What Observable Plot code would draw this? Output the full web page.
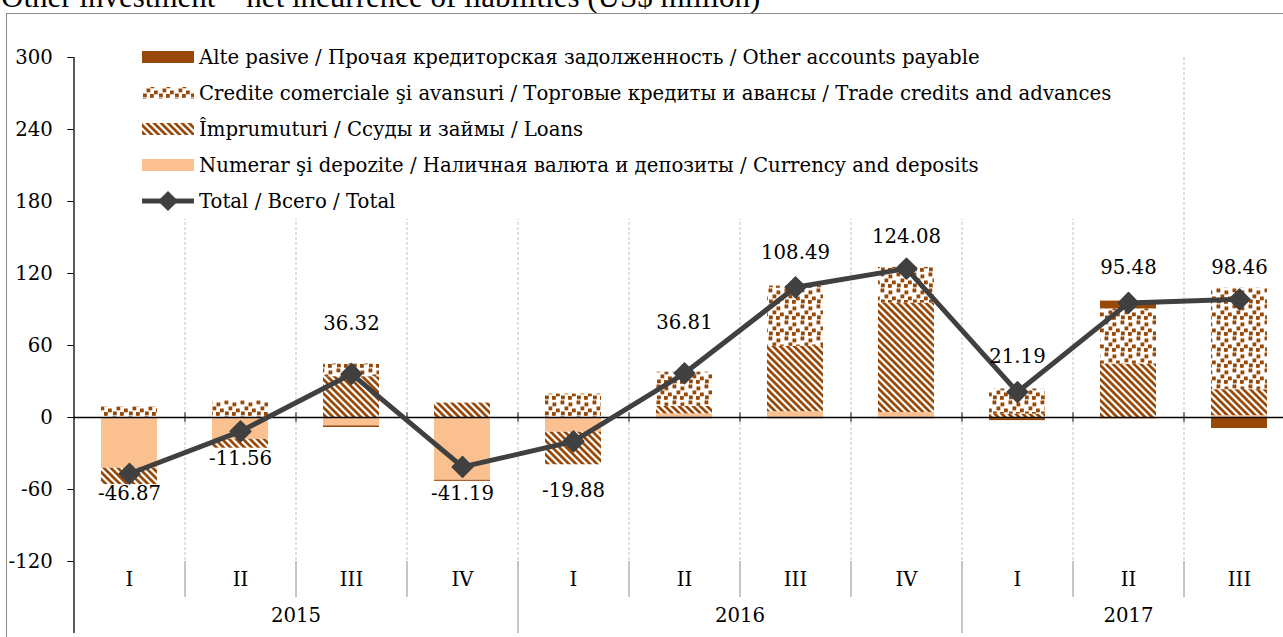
<!DOCTYPE html>
<html><head><meta charset="utf-8">
<script src="https://cdn.jsdelivr.net/npm/d3@7"></script>
<script src="https://cdn.jsdelivr.net/npm/@observablehq/plot@0.6"></script>
<style>
html,body{margin:0;padding:0;background:#fff;overflow:hidden;}
#wrap{position:relative;width:1283px;height:637px;overflow:hidden;font-family:"DejaVu Serif",serif;}
#title{position:absolute;left:1px;top:-19px;font-family:"Liberation Serif",serif;font-size:31px;line-height:31px;white-space:nowrap;color:#000;}
#frame{position:absolute;left:6px;top:13px;width:1400px;height:700px;border-left:1.3px solid #8a8a8a;border-top:1.3px solid #8a8a8a;pointer-events:none;}
#chart{position:absolute;left:0;top:0;}
#legend{position:absolute;left:136px;top:39px;width:982px;background:#fff;}
.row{height:36px;display:flex;align-items:center;}
.row svg{margin-left:6px;margin-right:5px;flex:none;}
.row span{font-size:19.7px;white-space:nowrap;color:#000;}
</style></head>
<body>
<svg width="0" height="0" style="position:absolute">
  <defs>
    <pattern id="loansPat" patternUnits="userSpaceOnUse" width="7" height="7">
      <rect width="7" height="7" fill="#fff"/>
      <path d="M-1,-1 L8,8 M-1,6 L1,8 M6,-1 L8,1" stroke="#984807" stroke-width="2.7"/>
    </pattern>
    <pattern id="tradePat" patternUnits="userSpaceOnUse" width="16" height="16">
      <rect width="16" height="16" fill="#fff"/>
      <g fill="#984807">
        <rect x="0.5" y="0.5" width="3.8" height="3.8"/>
        <rect x="8.5" y="2.5" width="3.8" height="3.8"/>
        <rect x="4.5" y="6.5" width="3.8" height="3.8"/>
        <rect x="12" y="8.5" width="3.8" height="3.8"/>
        <rect x="1" y="11.5" width="3.8" height="3.8"/>
        <rect x="8" y="12" width="3.8" height="3.8"/>
      </g>
    </pattern>
  </defs>
</svg>
<div id="wrap">
  <div id="title">Other investment – net incurrence of liabilities (US$ million)</div>
  <div id="chart"></div>
  <div id="frame"></div>
  <div id="legend"></div>
</div>
<script>
// ---- data ----
const quarters = ["I","II","III","IV","I","II","III","IV","I","II","III"];
const years = ["2015","2015","2015","2015","2016","2016","2016","2016","2017","2017","2017"];
const yearNames = ["2015","2016","2017"];
const currency = [-42.3, -18.2, -7.0, -52.3, -12.3, 3.0, 4.8, 4.2, -1.0, -1.5, 1.5];
const loans    = [-13.6, -7.4, 34.0, 12.0, -27.1, 6.3, 54.5, 91.2, 2.8, 44.5, 21.7];
const trade    = [9.0, 14.0, 10.6, 0, 19.5, 28.5, 50.2, 29.7, 21.0, 46.0, 84.5];
const other    = [0, 0, -1.3, -0.9, 0, -1.0, -1.0, -1.0, -1.6, 6.5, -9.2];
const total    = [-46.87, -11.56, 36.32, -41.19, -19.88, 36.81, 108.49, 124.08, 21.19, 95.48, 98.46];
const yTicks = [-120, -60, 0, 60, 120, 180, 240, 300];
const seriesKeys = ["currency", "loans", "trade", "other"];
const seriesLabels = [
  "Alte pasive / Прочая кредиторская задолженность / Other accounts payable",
  "Credite comerciale şi avansuri / Торговые кредиты и авансы / Trade credits and advances",
  "Împrumuturi / Ссуды и займы / Loans",
  "Numerar şi depozite / Наличная валюта и депозиты / Currency and deposits",
  "Total / Всего / Total"
];
// label offsets (px) for total annotations
const labelDy = [20, 27, -50, 27, 49, -51, -35, -32, -35, -35, -32];

// ---- styles ----
const fills = {currency: "#FAC090", loans: "url(#loansPat)", trade: "url(#tradePat)", other: "#984807"};
const lineColor = "#404040";
const FS = 19.7;

// ---- layout ----
const W = 1283, H = 637;
const X0 = 73.3, X1 = 1294.3;
const cats = quarters.map((q, i) => years[i] + " " + q);
const step = (X1 - X0) / cats.length;

const seriesValues = {currency, loans, trade, other};
const data = [];
for (const k of seriesKeys) seriesValues[k].forEach((v, i) => data.push({id: cats[i], series: k, value: v}));
const totals = total.map((v, i) => ({id: cats[i], value: v, dy: labelDy[i]}));

// year label positions: centre of each year's visible quarters
const yearLabels = yearNames.map(y => {
  const idx = years.map((yy, i) => yy === y ? i : -1).filter(i => i >= 0);
  const mid = (idx[0] + idx[idx.length - 1]) / 2;
  const base = Math.floor(mid);
  return {id: cats[base], text: y, dx: (mid - base) * step};
});
const yearStarts = cats.filter((c, i) => i > 0 && years[i] !== years[i - 1]);
const quarterBounds = cats.filter((c, i) => i > 0 && years[i] === years[i - 1]);

const uniqueDy = [...new Set(totals.map(d => d.dy))];
const uniqueDx = [...new Set(yearLabels.map(d => d.dx))];

const chart = Plot.plot({
  width: W, height: H,
  marginLeft: X0, marginRight: 0, marginTop: 57, marginBottom: 76,
  style: {fontFamily: "'DejaVu Serif', serif", fontSize: FS + "px", color: "#000", background: "transparent"},
  x: {type: "band", domain: cats, range: [X0, X1], paddingInner: 0.5, paddingOuter: 0.25, axis: null},
  y: {domain: [-120, 300], range: [561, 57], axis: null},
  color: {domain: seriesKeys, range: seriesKeys.map(k => fills[k])},
  marks: [
    Plot.ruleX(cats.slice(1), {x: d => d, dx: -step / 2, y1: 300, y2: -120, stroke: "#bfbfbf", strokeDasharray: "3,2", strokeWidth: 1}),
    Plot.ruleX(quarterBounds, {x: d => d, dx: -step / 2, y1: -120, y2: -150, stroke: "#8c8c8c", strokeWidth: 1}),
    Plot.ruleX(yearStarts, {x: d => d, dx: -step / 2, y1: -120, y2: -180, stroke: "#8c8c8c", strokeWidth: 1}),
    Plot.ruleX(cats.slice(1), {x: d => d, dx: -step / 2, y1: 4, y2: -4, stroke: "#7f7f7f", strokeWidth: 2}),
    Plot.barY(data, Plot.stackY({x: "id", y: "value", fill: "series"})),
    Plot.ruleY([0], {stroke: "#000", strokeWidth: 1.3}),
    Plot.ruleX([cats[0]], {x: d => d, dx: -step / 2, y1: 300, y2: -180, stroke: "#000", strokeWidth: 1.3}),
    Plot.axisY(yTicks, {label: null, tickSize: 6, tickPadding: 15, tickFormat: d => String(d), fontSize: FS, stroke: "#000"}),
    Plot.line(totals, {x: "id", y: "value", stroke: lineColor, strokeWidth: 5, strokeLinejoin: "round"}),
    Plot.dot(totals, {x: "id", y: "value", symbol: "diamond2", r: 9.3, fill: lineColor, stroke: lineColor, strokeWidth: 1.5, strokeLinejoin: "round"}),
    ...uniqueDy.map(o => Plot.text(totals.filter(d => d.dy === o), {x: "id", y: "value", text: d => d.value.toFixed(2), dy: o, fontSize: FS, fill: "#000"})),
    Plot.text(cats, {x: d => d, y: -135.5, text: (d, i) => quarters[i], fontSize: FS, fill: "#000"}),
    ...uniqueDx.map(o => Plot.text(yearLabels.filter(d => d.dx === o), {x: "id", y: -165, text: "text", dx: o, fontSize: FS, fill: "#000"}))
  ]
});
document.getElementById("chart").appendChild(chart);

// ---- legend ----
const legend = d3.select("#legend");
const legendFills = [fills.other, fills.trade, fills.loans, fills.currency];
seriesLabels.forEach((lab, i) => {
  const row = legend.append("div").attr("class", "row");
  const s = row.append("svg").attr("width", 52).attr("height", 22);
  if (i < 4) {
    s.append("rect").attr("x", 0).attr("y", 5).attr("width", 52).attr("height", 12).attr("fill", legendFills[i]);
  } else {
    s.append("line").attr("x1", 0).attr("x2", 52).attr("y1", 11).attr("y2", 11)
      .attr("stroke", lineColor).attr("stroke-width", 5);
    s.append("path").attr("d", "M26,2 L35,11 L26,20 L17,11 Z").attr("fill", lineColor)
      .attr("stroke", lineColor).attr("stroke-width", 1.5).attr("stroke-linejoin", "round");
  }
  row.append("span").text(lab);
});
</script>
</body></html>
